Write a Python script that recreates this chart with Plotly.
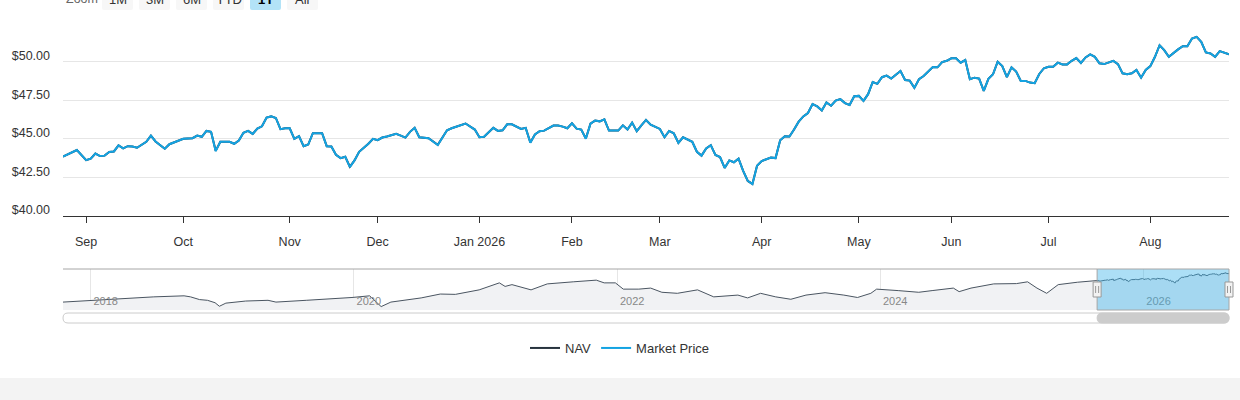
import plotly.graph_objects as go
import pandas as pd

# ---------------- DATA ----------------
dates_1y = [
    "2025-08-25", "2025-08-26", "2025-08-27", "2025-08-28",
    "2025-09-02", "2025-09-03", "2025-09-04", "2025-09-05", "2025-09-08", "2025-09-09", "2025-09-10",
    "2025-09-11", "2025-09-12", "2025-09-15", "2025-09-16", "2025-09-17", "2025-09-19", "2025-09-22",
    "2025-09-23", "2025-09-25", "2025-09-26", "2025-09-30",
    "2025-10-01", "2025-10-03", "2025-10-06", "2025-10-07", "2025-10-08", "2025-10-09", "2025-10-10",
    "2025-10-13", "2025-10-15", "2025-10-16", "2025-10-17", "2025-10-20", "2025-10-21", "2025-10-22",
    "2025-10-23", "2025-10-24", "2025-10-27", "2025-10-28", "2025-10-29", "2025-10-30", "2025-10-31",
    "2025-11-03", "2025-11-04", "2025-11-05", "2025-11-06", "2025-11-07", "2025-11-10", "2025-11-11",
    "2025-11-12", "2025-11-13", "2025-11-14", "2025-11-17", "2025-11-18", "2025-11-19", "2025-11-20",
    "2025-11-21", "2025-11-24", "2025-11-26", "2025-11-28",
    "2025-12-01", "2025-12-02", "2025-12-03", "2025-12-05", "2025-12-08", "2025-12-09", "2025-12-10",
    "2025-12-11", "2025-12-12", "2025-12-16", "2025-12-18", "2025-12-19", "2025-12-22", "2025-12-23",
    "2025-12-26", "2025-12-29", "2025-12-31",
    "2026-01-02", "2026-01-05", "2026-01-07", "2026-01-08", "2026-01-09", "2026-01-12", "2026-01-13",
    "2026-01-15", "2026-01-16", "2026-01-20", "2026-01-21", "2026-01-22", "2026-01-23", "2026-01-27",
    "2026-01-28", "2026-01-29", "2026-01-30",
    "2026-02-02", "2026-02-03", "2026-02-04", "2026-02-05", "2026-02-06", "2026-02-09", "2026-02-10",
    "2026-02-11", "2026-02-12", "2026-02-17", "2026-02-18", "2026-02-19", "2026-02-20", "2026-02-23",
    "2026-02-24", "2026-02-25", "2026-02-26", "2026-02-27",
    "2026-03-02", "2026-03-03", "2026-03-04", "2026-03-05", "2026-03-06", "2026-03-09", "2026-03-10",
    "2026-03-11", "2026-03-12", "2026-03-13", "2026-03-16", "2026-03-17", "2026-03-18", "2026-03-19",
    "2026-03-20", "2026-03-23", "2026-03-24", "2026-03-25", "2026-03-26", "2026-03-27", "2026-03-30",
    "2026-03-31",
    "2026-04-01", "2026-04-02", "2026-04-06", "2026-04-07", "2026-04-08", "2026-04-09", "2026-04-10",
    "2026-04-13", "2026-04-14", "2026-04-15", "2026-04-16", "2026-04-17", "2026-04-20", "2026-04-21",
    "2026-04-22", "2026-04-23", "2026-04-24", "2026-04-27", "2026-04-28", "2026-04-29", "2026-04-30",
    "2026-05-01", "2026-05-04", "2026-05-05", "2026-05-06", "2026-05-07", "2026-05-08", "2026-05-11",
    "2026-05-12", "2026-05-14", "2026-05-15", "2026-05-18", "2026-05-19", "2026-05-20", "2026-05-21",
    "2026-05-26", "2026-05-27", "2026-05-28", "2026-05-29",
    "2026-06-01", "2026-06-02", "2026-06-03", "2026-06-04", "2026-06-05", "2026-06-08", "2026-06-09",
    "2026-06-10", "2026-06-11", "2026-06-12", "2026-06-15", "2026-06-16", "2026-06-17", "2026-06-18",
    "2026-06-22", "2026-06-23", "2026-06-24", "2026-06-25", "2026-06-26", "2026-06-29", "2026-06-30",
    "2026-07-01", "2026-07-02", "2026-07-06", "2026-07-07", "2026-07-08", "2026-07-09", "2026-07-10",
    "2026-07-13", "2026-07-14", "2026-07-15", "2026-07-16", "2026-07-17", "2026-07-20", "2026-07-22",
    "2026-07-23", "2026-07-24", "2026-07-27", "2026-07-28", "2026-07-29", "2026-07-30", "2026-07-31",
    "2026-08-03", "2026-08-04", "2026-08-05", "2026-08-06", "2026-08-07", "2026-08-10", "2026-08-11",
    "2026-08-12", "2026-08-13", "2026-08-14", "2026-08-17", "2026-08-18", "2026-08-19", "2026-08-20",
    "2026-08-21", "2026-08-24", "2026-08-25", "2026-08-26",
]

market_price_1y = [
    43.84, 44.00, 44.15, 44.27,
    43.62, 43.71, 44.04, 43.88, 43.91, 44.14, 44.18,
    44.57, 44.38, 44.52, 44.50, 44.42, 44.81, 45.21,
    44.83, 44.36, 44.65, 44.91,
    45.00, 45.04, 45.21, 45.13, 45.51, 45.45, 44.20,
    44.81, 44.81, 44.68, 44.89, 45.39, 45.51, 45.32,
    45.66, 45.81, 46.37, 46.45, 46.35, 45.62, 45.68,
    45.68, 45.00, 45.17, 44.52, 44.63, 45.36, 45.36,
    45.36, 44.52, 44.50, 43.97, 43.75, 43.84, 43.17,
    43.60, 44.16, 44.68, 45.00,
    44.91, 45.08, 45.15, 45.32, 45.21, 45.08, 45.45,
    45.71, 45.10, 45.04, 44.59, 45.06, 45.55, 45.68,
    45.92, 45.99, 45.60,
    45.10, 45.13, 45.71, 45.51, 45.55, 45.94, 45.94,
    45.64, 45.71, 44.74, 45.28, 45.49, 45.53, 45.86,
    45.86, 45.79, 45.68,
    46.00, 45.66, 45.60, 45.00, 45.98, 46.18, 46.13,
    46.26, 45.53, 45.53, 45.87, 45.60, 46.05, 45.49,
    45.87, 46.22, 45.92, 45.79,
    45.64, 45.10, 45.51, 45.36, 44.74, 45.10, 44.97,
    44.81, 44.16, 43.91, 44.38, 44.59, 43.95, 43.82,
    43.11, 43.60, 43.48, 43.71, 42.92, 42.27, 42.06,
    43.26,
    43.56, 43.65, 43.78, 43.75, 44.91, 45.17, 45.15,
    45.60, 46.11, 46.45, 46.67, 47.25, 47.10, 46.84,
    47.35, 47.14, 47.48, 47.57, 47.31, 47.19, 47.76,
    47.78, 47.46, 47.89, 48.68, 48.56, 48.99, 49.09,
    48.90, 49.39, 48.81, 48.77, 48.30, 48.86, 49.07,
    49.65, 49.63, 49.97, 50.05,
    50.21, 50.21, 49.93, 50.10, 48.86, 48.96, 48.90,
    48.11, 48.88, 49.18, 49.99, 49.71, 48.99, 49.63,
    49.35, 48.75, 48.75, 48.64, 48.60, 49.20, 49.57,
    49.67, 49.67, 49.93, 49.82, 49.82, 50.05, 50.23,
    49.91, 50.27, 50.47, 50.31, 49.89, 49.84, 50.05,
    49.84, 49.24, 49.18, 49.24, 49.46, 48.96, 49.46,
    49.71, 50.31, 51.06, 50.74, 50.31, 50.57, 50.79,
    51.00, 51.00, 51.49, 51.60, 51.28, 50.59, 50.53,
    50.31, 50.68, 50.59, 50.48,
]

# NAV tracks the market price almost exactly in the picture
nav_1y = [
    43.84, 44.00, 44.15, 44.27,
    43.62, 43.71, 44.04, 43.88, 43.91, 44.14, 44.18,
    44.57, 44.38, 44.52, 44.50, 44.42, 44.81, 45.21,
    44.83, 44.36, 44.65, 44.91,
    45.00, 45.04, 45.21, 45.13, 45.51, 45.45, 44.22,
    44.81, 44.81, 44.68, 44.89, 45.39, 45.51, 45.32,
    45.66, 45.81, 46.37, 46.45, 46.35, 45.62, 45.68,
    45.68, 45.00, 45.17, 44.52, 44.63, 45.36, 45.36,
    45.36, 44.52, 44.50, 43.97, 43.75, 43.84, 43.19,
    43.60, 44.16, 44.68, 45.00,
    44.91, 45.08, 45.15, 45.32, 45.21, 45.08, 45.45,
    45.71, 45.10, 45.04, 44.61, 45.06, 45.55, 45.68,
    45.92, 45.99, 45.60,
    45.10, 45.13, 45.71, 45.51, 45.55, 45.94, 45.94,
    45.64, 45.71, 44.76, 45.28, 45.49, 45.53, 45.86,
    45.86, 45.79, 45.68,
    46.00, 45.66, 45.60, 45.02, 45.98, 46.18, 46.13,
    46.26, 45.53, 45.53, 45.87, 45.60, 46.05, 45.49,
    45.87, 46.22, 45.92, 45.79,
    45.64, 45.10, 45.51, 45.36, 44.74, 45.10, 44.97,
    44.81, 44.16, 43.91, 44.38, 44.59, 43.95, 43.82,
    43.11, 43.60, 43.48, 43.71, 42.92, 42.27, 42.08,
    43.26,
    43.56, 43.65, 43.78, 43.75, 44.91, 45.17, 45.15,
    45.60, 46.11, 46.45, 46.67, 47.25, 47.10, 46.84,
    47.35, 47.14, 47.48, 47.57, 47.31, 47.19, 47.76,
    47.78, 47.46, 47.89, 48.68, 48.56, 48.99, 49.09,
    48.90, 49.39, 48.81, 48.77, 48.30, 48.86, 49.07,
    49.65, 49.63, 49.97, 50.05,
    50.21, 50.21, 49.93, 50.10, 48.86, 48.96, 48.90,
    48.11, 48.88, 49.18, 49.99, 49.71, 48.99, 49.63,
    49.35, 48.75, 48.75, 48.64, 48.60, 49.20, 49.57,
    49.67, 49.67, 49.93, 49.82, 49.82, 50.05, 50.23,
    49.91, 50.27, 50.47, 50.31, 49.89, 49.84, 50.05,
    49.84, 49.24, 49.18, 49.24, 49.46, 48.96, 49.46,
    49.71, 50.31, 51.06, 50.74, 50.31, 50.57, 50.79,
    51.00, 51.00, 51.49, 51.60, 51.28, 50.59, 50.53,
    50.31, 50.68, 50.59, 50.48,
]

# long history (navigator only)
hist_dates = [
    "2017-10-16", "2018-01-02", "2018-03-09", "2018-06-25", "2018-09-17", "2018-10-05", "2018-10-30",
    "2018-11-21", "2018-12-12", "2018-12-24", "2019-01-11", "2019-03-07", "2019-05-08", "2019-05-30",
    "2019-08-22", "2019-10-24", "2019-12-27", "2020-02-14", "2020-03-17", "2020-04-13", "2020-07-06",
    "2020-08-28", "2020-10-09", "2020-12-14", "2021-02-08", "2021-02-24", "2021-03-15", "2021-05-07",
    "2021-06-21", "2021-09-01", "2021-11-04", "2021-11-26", "2021-12-27", "2022-01-18", "2022-03-02",
    "2022-04-04", "2022-05-05", "2022-06-17", "2022-08-12", "2022-09-26", "2022-12-02", "2022-12-29",
    "2023-02-03", "2023-03-17", "2023-04-28", "2023-06-09", "2023-08-01", "2023-09-22", "2023-10-30",
    "2023-12-06", "2023-12-22", "2024-02-20", "2024-04-17", "2024-05-24", "2024-07-22", "2024-08-07",
    "2024-09-09", "2024-11-11", "2025-01-13", "2025-02-13", "2025-03-11", "2025-04-07", "2025-05-09",
    "2025-07-01", "2025-08-19",
]
hist_nav = [
    24.50, 26.13, 27.37, 29.28, 30.23, 29.28, 26.79,
    26.13, 23.93, 20.69, 23.55, 25.46, 26.13, 24.50,
    26.13, 27.08, 28.70, 30.23, 20.40, 24.50, 28.32,
    31.85, 31.56, 35.67, 42.06, 38.82, 40.44, 35.67,
    41.11, 43.01, 44.54, 42.06, 42.06, 36.33, 36.33,
    37.29, 33.47, 32.52, 35.67, 29.28, 30.90, 28.32,
    32.52, 29.28, 27.08, 30.90, 33.09, 30.90, 28.70,
    32.52, 36.33, 35.00, 33.47, 35.00, 37.29, 34.04,
    37.29, 41.11, 41.39, 43.01, 37.29, 32.52, 40.44,
    42.63, 43.59,
]

month_tick_dates = ["2025-09-02", "2025-10-01", "2025-11-03", "2025-12-01", "2026-01-02", "2026-02-02",
                    "2026-03-02", "2026-04-01", "2026-05-01", "2026-06-01", "2026-07-01", "2026-08-03"]
month_tick_text = ["Sep", "Oct", "Nov", "Dec", "Jan 2026", "Feb", "Mar", "Apr", "May", "Jun", "Jul", "Aug"]

price_ticks = [40, 42.5, 45, 47.5, 50, 52.5]
price_tick_text = ["$40.00", "$42.50", "$45.00", "$47.50", "$50.00", ""]

nav_year_ticks = ["2018-01-01", "2020-01-01", "2022-01-01", "2024-01-01", "2026-01-01"]
nav_year_text = ["2018", "2020", "2022", "2024", "2026"]

market_holidays = ["2025-09-01", "2025-11-27", "2025-12-25", "2026-01-01", "2026-01-19", "2026-02-16",
                   "2026-04-03", "2026-05-25", "2026-06-19", "2026-07-03"]

zoom_buttons = ["1M", "3M", "6M", "YTD", "1Y", "All"]
selected_button = "1Y"
series_names = ["NAV", "Market Price"]

# ---------------- LAYOUT GEOMETRY (pixels) ----------------
W, H = 1240, 400
L, R = 63, 1229
TOP, MAIN_BOTTOM = 23, 216
NAV_TOP, NAV_BOTTOM = 269, 310
PW = R - L
PH = NAV_BOTTOM - TOP


def px(x):
    return (x - L) / PW


def py(y):
    return (NAV_BOTTOM - y) / PH


def rrect(x0, x1, y0, y1, r):
    rx, ry = r / PW, r / PH
    return (f"M {x0 + rx},{y0} L {x1 - rx},{y0} Q {x1},{y0} {x1},{y0 + ry} "
            f"L {x1},{y1 - ry} Q {x1},{y1} {x1 - rx},{y1} L {x0 + rx},{y1} "
            f"Q {x0},{y1} {x0},{y1 - ry} L {x0},{y0 + ry} Q {x0},{y0} {x0 + rx},{y0} Z")


FONT = "Liberation Sans, Arial, Helvetica, sans-serif"
NAV_COLOR = "#26323d"
MP_COLOR = "#13a3e2"

nav_all_dates = hist_dates + dates_1y
nav_all_vals = hist_nav + nav_1y
t0 = pd.Timestamp(nav_all_dates[0])
t1 = pd.Timestamp(nav_all_dates[-1])


def frac(d):
    return (pd.Timestamp(d) - t0) / (t1 - t0)


s0 = frac(dates_1y[0])
s1 = frac(dates_1y[-1])

vmin, vmax = min(nav_all_vals), max(nav_all_vals)
span = vmax - vmin

fig = go.Figure()

fig.add_trace(go.Scatter(x=dates_1y, y=nav_1y, name=series_names[0], mode="lines",
                         line=dict(color=NAV_COLOR, width=2), xaxis="x", yaxis="y"))
fig.add_trace(go.Scatter(x=dates_1y, y=market_price_1y, name=series_names[1], mode="lines",
                         line=dict(color=MP_COLOR, width=2), xaxis="x", yaxis="y"))
fig.add_trace(go.Scatter(x=nav_all_dates, y=nav_all_vals, mode="lines", showlegend=False,
                         fill="tozeroy", fillcolor="#f1f2f4",
                         line=dict(color="#4a5561", width=1), xaxis="x2", yaxis="y2",
                         hoverinfo="skip"))

shapes = []
annotations = []

# footer band
shapes.append(dict(type="rect", xref="paper", yref="paper", x0=px(0), x1=px(W), y0=py(H), y1=py(378),
                   fillcolor="#f3f3f3", line=dict(width=0), layer="below"))

# navigator selection mask
shapes.append(dict(type="rect", xref="paper", yref="paper", x0=s0, x1=s1, y0=0, y1=py(NAV_TOP),
                   fillcolor="rgba(58,178,234,0.42)", line=dict(width=0), layer="above"))

# navigator outline
yt = py(NAV_TOP)
shapes.append(dict(type="path", xref="paper", yref="paper",
                   path=f"M 0,{yt} L {s0},{yt} L {s0},0 L {s1},0 L {s1},{yt} L 1,{yt} M {s0},{yt} L {s1},{yt}",
                   line=dict(color="#a6a6a6", width=1), layer="above"))

# navigator handles
hw = 4 / PW
for s in (s0, s1):
    shapes.append(dict(type="rect", xref="paper", yref="paper", x0=s - hw, x1=s + hw,
                       y0=py(297), y1=py(282), fillcolor="#f2f2f2",
                       line=dict(color="#999999", width=1), layer="above"))
    for dx in (-1.5, 1.5):
        shapes.append(dict(type="line", xref="paper", yref="paper", x0=s + dx / PW, x1=s + dx / PW,
                           y0=py(293), y1=py(286), line=dict(color="#999999", width=1), layer="above"))

# scrollbar
shapes.append(dict(type="path", xref="paper", yref="paper",
                   path=rrect(px(L), px(R), py(323), py(313), 5),
                   fillcolor="#ffffff", line=dict(color="#cccccc", width=1)))
shapes.append(dict(type="path", xref="paper", yref="paper",
                   path=rrect(s0, s1, py(323), py(313), 5),
                   fillcolor="#cccccc", line=dict(color="#cccccc", width=1)))

# range selector buttons (top, partially cut)
annotations.append(dict(text="Zoom", xref="paper", yref="paper", x=px(64), y=py(-1),
                        xanchor="left", yanchor="middle", showarrow=False,
                        font=dict(family=FONT, size=12.5, color="#666666")))
for i, lab in enumerate(zoom_buttons):
    bx0 = 102 + 37 * i
    bx1 = bx0 + 31
    sel = lab == selected_button
    shapes.append(dict(type="path", xref="paper", yref="paper",
                       path=rrect(px(bx0), px(bx1), py(10), py(-14), 2),
                       fillcolor="#b3e3f7" if sel else "#f7f7f7", line=dict(width=0)))
    annotations.append(dict(text=f"<b>{lab}</b>" if sel else lab, xref="paper", yref="paper",
                            x=px((bx0 + bx1) / 2), y=py(-1), xanchor="center", yanchor="middle",
                            showarrow=False,
                            font=dict(family=FONT, size=13, color="#000000" if sel else "#333333")))

fig.update_layout(
    width=W, height=H,
    margin=dict(l=L, r=W - R, t=TOP, b=H - NAV_BOTTOM),
    paper_bgcolor="#ffffff", plot_bgcolor="#ffffff",
    font=dict(family=FONT, color="#333333"),
    showlegend=True,
    legend=dict(orientation="h", x=px(620), xanchor="center", y=py(348), yanchor="middle",
                font=dict(family=FONT, size=13, color="#333333"), bgcolor="rgba(0,0,0,0)",
                itemwidth=30, traceorder="normal"),
    xaxis=dict(domain=[0, 1], anchor="y", type="date",
               range=[dates_1y[0], dates_1y[-1]],
               rangebreaks=[dict(bounds=["sat", "mon"]), dict(values=market_holidays)],
               tickmode="array", tickvals=month_tick_dates, ticktext=month_tick_text,
               showgrid=False, zeroline=False,
               showline=True, linecolor="#333333", linewidth=1,
               ticks="outside", ticklen=6, tickcolor="#333333", tickwidth=1,
               ticklabelstandoff=8,
               tickfont=dict(family=FONT, size=12.5, color="#333333"),
               fixedrange=True),
    yaxis=dict(domain=[py(MAIN_BOTTOM), 1], anchor="x",
               range=[price_ticks[0], price_ticks[-1]],
               tickmode="array", tickvals=price_ticks, ticktext=price_tick_text,
               showgrid=True, gridcolor="#e6e6e6", gridwidth=1, zeroline=False, showline=False,
               ticks="", ticklabelstandoff=12, ticklabelshift=-6,
               tickfont=dict(family=FONT, size=12.5, color="#333333"),
               fixedrange=True),
    xaxis2=dict(domain=[0, 1], anchor="y2", type="date", range=[t0, t1],
                tickmode="array", tickvals=nav_year_ticks, ticktext=nav_year_text,
                showgrid=True, gridcolor="#e6e6e6", gridwidth=1, zeroline=False, showline=False,
                ticks="", ticklabelposition="inside", ticklabelshift=15,
                tickfont=dict(family=FONT, size=11, color="#888888"),
                fixedrange=True),
    yaxis2=dict(domain=[0, py(NAV_TOP)], anchor="x2",
                range=[vmin - 0.1 * span, vmax + 0.1 * span],
                showgrid=False, zeroline=False, showticklabels=False, showline=False,
                fixedrange=True),
    shapes=shapes,
    annotations=annotations,
    hovermode=False,
)

fig.write_html("out.html", config={"displayModeBar": False},
               post_script="document.body.style.margin='0';document.body.style.overflow='hidden';")
